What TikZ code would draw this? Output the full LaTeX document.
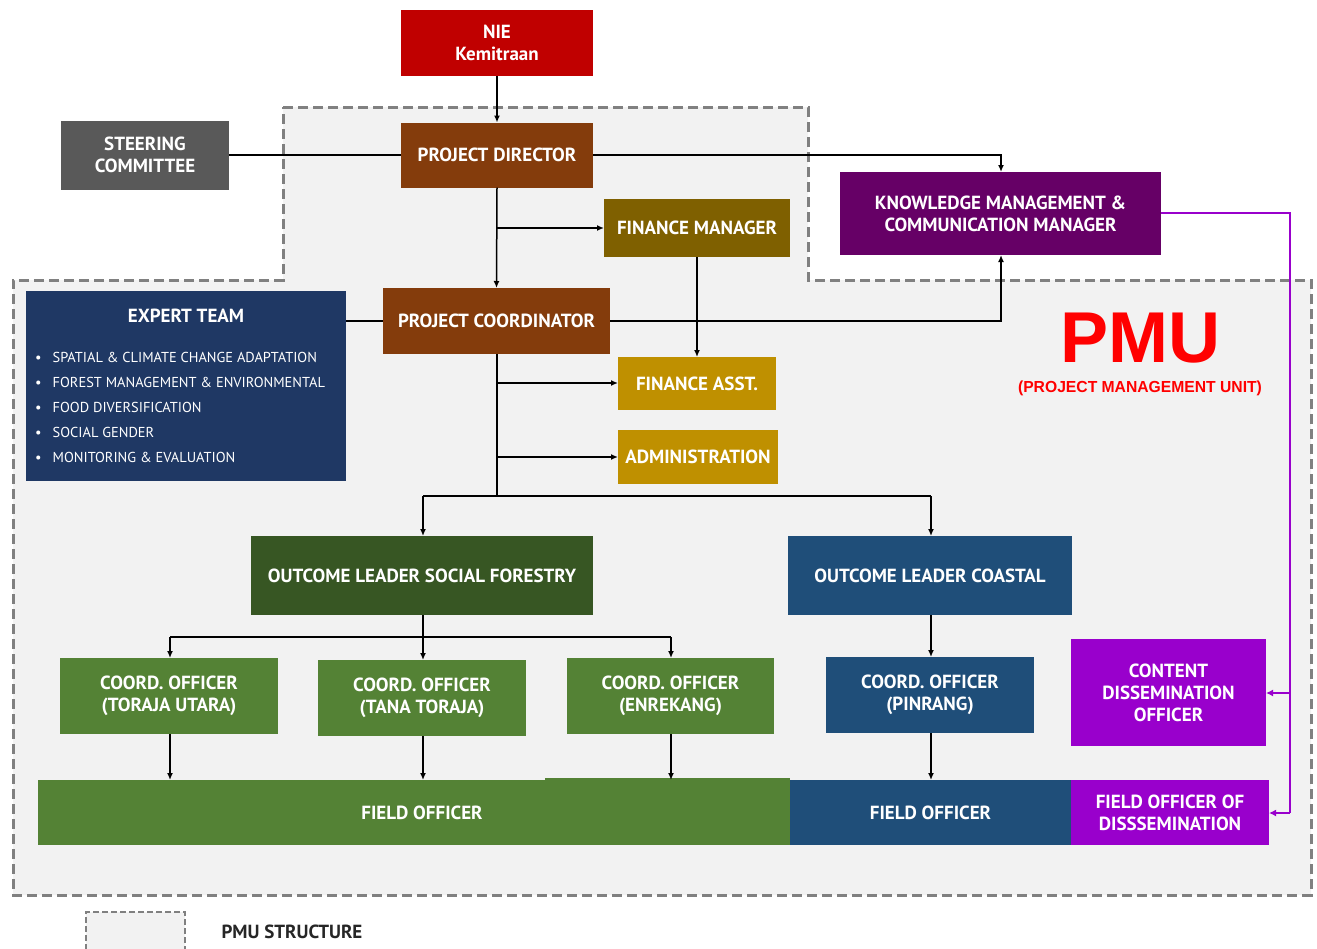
\documentclass[tikz,border=0pt]{standalone}
\usepackage{fontspec}
\setmainfont{PT Sans}
\newfontfamily\pmufont{Liberation Sans}
\usetikzlibrary{arrows.meta}
\definecolor{cnie}{HTML}{C00000}
\definecolor{csteer}{HTML}{595959}
\definecolor{cbrown}{HTML}{843C0C}
\definecolor{ckm}{HTML}{660066}
\definecolor{cfm}{HTML}{7F6000}
\definecolor{cgold}{HTML}{BF9000}
\definecolor{cnavy}{HTML}{1F3864}
\definecolor{cdgreen}{HTML}{375623}
\definecolor{cgreen}{HTML}{548235}
\definecolor{cblue}{HTML}{1F4E79}
\definecolor{cpurple}{HTML}{9900CC}
\definecolor{cregion}{HTML}{F2F2F2}
\definecolor{cdash}{HTML}{808080}
\tikzset{
  orgbox/.style={inner sep=0pt, outer sep=0pt, align=center, text=white,
    font=\fontsize{19}{22}\selectfont\bfseries},
  conn/.style={line width=1.5pt, draw=black},
  arr/.style={conn, -{Latex[length=7pt,width=6pt]}},
  parr/.style={line width=2pt, draw=cpurple, -{Latex[length=7pt,width=7pt]}},
  region/.style={draw=cdash, fill=cregion, line width=3pt, dash pattern=on 10pt off 5pt},
}
\begin{document}
\begin{tikzpicture}[x=1pt,y=-1pt]
\useasboundingbox (0,0) rectangle (1317,948);
\fill[white] (0,0) rectangle (1317,948);
% PMU region
\path[region] (283,107) -- (808,107) -- (808,280) -- (1311,280) -- (1311,895) -- (13,895) -- (13,280) -- (283,280) -- cycle;
% legend
\fill[cregion] (86,912) rectangle (185,950);
\draw[draw=cdash, line width=2pt, dash pattern=on 6pt off 3pt] (86,950) -- (86,912) -- (185,912) -- (185,950);
\node[anchor=west, font=\fontsize{19}{22}\selectfont\bfseries, text=black!85] (legtxt) at (218,932) {PMU STRUCTURE};

% PMU label
\node[text=red, font=\pmufont\fontsize{72}{80}\selectfont\bfseries] (pmu) at (1140,338) {PMU};
\node[text=red, font=\pmufont\fontsize{16}{18}\selectfont\bfseries] (pmusub) at (1140,388) {\scalebox{0.98}[1]{(PROJECT MANAGEMENT UNIT)}};

% boxes
\node[orgbox, fill=cnie, minimum width=192pt, minimum height=66pt] (nie) at (497,43) {NIE\\Kemitraan};
\node[orgbox, fill=csteer, minimum width=168pt, minimum height=69pt] (steer) at (145,155) {STEERING\\COMMITTEE};
\node[orgbox, fill=cbrown, minimum width=192pt, minimum height=65pt] (pd) at (497,155) {PROJECT DIRECTOR};
\node[orgbox, fill=ckm, minimum width=321pt, minimum height=83pt] (km) at (1000.5,213.5) {KNOWLEDGE MANAGEMENT \&\\COMMUNICATION MANAGER};
\node[orgbox, fill=cfm, minimum width=186pt, minimum height=58pt] (fm) at (697,228) {FINANCE MANAGER};
\node[orgbox, fill=cbrown, minimum width=227pt, minimum height=66pt] (pc) at (496.5,321) {PROJECT COORDINATOR};
\node[inner sep=0pt, outer sep=0pt, fill=cnavy, minimum width=320pt, minimum height=190pt] (expert) at (186,386) {};
\node[text=white, font=\fontsize{19}{22}\selectfont\bfseries] (exptitle) at (186,316) {EXPERT TEAM};
\node[text=white, anchor=north west, align=left, inner sep=0pt,
  font=\fontsize{14.4}{25}\selectfont] (explist) at (35,352)
  {\textbullet\hspace{11pt}SPATIAL \& CLIMATE CHANGE ADAPTATION\\
   \textbullet\hspace{11pt}FOREST MANAGEMENT \& ENVIRONMENTAL\\
   \textbullet\hspace{11pt}FOOD DIVERSIFICATION\\
   \textbullet\hspace{11pt}SOCIAL GENDER\\
   \textbullet\hspace{11pt}MONITORING \& EVALUATION};
\node[orgbox, fill=cgold, minimum width=158pt, minimum height=53pt] (fa) at (697,383.5) {FINANCE ASST.};
\node[orgbox, fill=cgold, minimum width=160pt, minimum height=54pt] (adm) at (698,457) {ADMINISTRATION};
\node[orgbox, fill=cdgreen, minimum width=342pt, minimum height=79pt] (olsf) at (422,575.5) {OUTCOME LEADER SOCIAL FORESTRY};
\node[orgbox, fill=cblue, minimum width=284pt, minimum height=79pt] (olc) at (930,575.5) {OUTCOME LEADER COASTAL};
\node[orgbox, fill=cgreen, minimum width=218pt, minimum height=76pt] (co1) at (169,696) {COORD. OFFICER\\(TORAJA UTARA)};
\node[orgbox, fill=cgreen, minimum width=208pt, minimum height=76pt] (co2) at (422,698) {COORD. OFFICER\\(TANA TORAJA)};
\node[orgbox, fill=cgreen, minimum width=207pt, minimum height=76pt] (co3) at (670.5,696) {COORD. OFFICER\\(ENREKANG)};
\node[orgbox, fill=cblue, minimum width=208pt, minimum height=76pt] (co4) at (930,695) {COORD. OFFICER\\(PINRANG)};
\node[orgbox, fill=cpurple, minimum width=195pt, minimum height=107pt] (cdo) at (1168.5,692.5) {CONTENT\\DISSEMINATION\\OFFICER};
\fill[cgreen] (545,778) rectangle (790,781);
\node[orgbox, fill=cgreen, minimum width=752pt, minimum height=65pt] (fo1) at (414,812.5) {};
\node[orgbox] (fo1t) at (422,812.5) {FIELD OFFICER};
\node[orgbox, fill=cblue, minimum width=281pt, minimum height=65pt] (fo2) at (930.5,812.5) {FIELD OFFICER};
\node[orgbox, fill=cpurple, minimum width=198pt, minimum height=65pt] (fo3) at (1170,812.5) {FIELD OFFICER OF\\DISSSEMINATION};

% coordinates
\coordinate (j1) at (497,228);
\coordinate (j2) at (497,383);
\coordinate (j3) at (497,457);
\coordinate (j4) at (497,496);
\coordinate (j5) at (423,496);
\coordinate (j6) at (931,496);
\coordinate (k1) at (1001,155);
\coordinate (k2) at (1001,321);
\coordinate (s1) at (423,637);
\coordinate (s2) at (170,637);
\coordinate (s3) at (671,637);
\coordinate (p1) at (1290,213);
\coordinate (p2) at (1290,693);
\coordinate (p3) at (1290,813);

% connectors
\draw[arr] (nie.south) -- (pd.north);
\draw[conn] (steer.east) -- (pd.west);
\draw[arr] (pd.east) -- (k1) -- (km.north -| k1);
\draw[arr] (pd.south) -- (pc.north);
\draw[arr] (j1) -- (fm.west);
\draw[conn] (expert.east |- pc.west) -- (pc.west);
\draw[arr] (pc.east) -- (k2) -- (km.south -| k2);
\draw[arr] (fm.south) -- (fa.north);
\draw[conn] (pc.south -| j4) -- (j4);
\draw[arr] (j2) -- (fa.west |- j2);
\draw[arr] (j3) -- (adm.west |- j3);
\draw[conn] (j5) -- (j6);
\draw[arr] (j5) -- (olsf.north -| j5);
\draw[arr] (j6) -- (olc.north -| j6);
\draw[conn] (olsf.south -| s1) -- (s1);
\draw[conn] (s2) -- (s3);
\draw[arr] (s2) -- (co1.north -| s2);
\draw[arr] (s1) -- (co2.north -| s1);
\draw[arr] (s3) -- (co3.north -| s3);
\draw[arr] (olc.south -| j6) -- (co4.north -| j6);
\draw[arr] (co1.south -| s2) -- (fo1.north -| s2);
\draw[arr] (co2.south -| s1) -- (fo1.north -| s1);
\draw[arr] (co3.south -| s3) -- (fo1.north -| s3);
\draw[arr] (co4.south -| j6) -- (fo2.north -| j6);
\draw[line width=2pt, draw=cpurple] (km.east |- p1) -- (p1) -- (p3);
\draw[parr] (p2) -- (cdo.east |- p2);
\draw[parr] (p3) -- (fo3.east |- p3);
\end{tikzpicture}
\end{document}
